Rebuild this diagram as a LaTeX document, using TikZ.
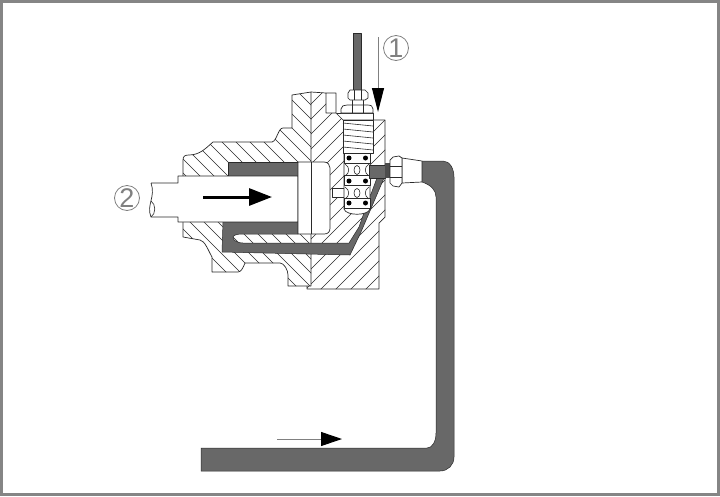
\documentclass[tikz,border=0pt]{standalone}
\usepackage{fontspec}
\setmainfont{Liberation Sans}
\usetikzlibrary{arrows.meta}
\definecolor{oilgray}{HTML}{686868}
\definecolor{framegray}{HTML}{858585}
\definecolor{inkgray}{HTML}{2A2A2A}
\begin{document}
\begin{tikzpicture}[
  x=1pt, y=-1pt,
  part/.style={draw=inkgray, line width=0.7pt, fill=white, line join=round},
  oil/.style={draw=inkgray, line width=0.5pt, fill=oilgray, line join=round},
  hatchline/.style={draw=inkgray, line width=0.6pt},
  thin part/.style={draw=inkgray, line width=0.6pt},
  circlabel/.style={circle, draw=gray, line width=0.8pt, minimum size=25pt, inner sep=0pt, text=gray, font=\fontsize{27}{27}\selectfont},
  bigflow/.style={line width=3pt, -{Triangle[length=23pt, width=17pt]}},
  flow/.style={draw=gray, line width=1pt, -{Triangle[length=24pt, width=12pt, black]}},
  longflow/.style={draw=gray, line width=1pt, -{Triangle[length=21pt, width=14pt, black]}}
]
\useasboundingbox (0,0) rectangle (720,496);
\fill[white] (0,0) rectangle (720,496);

% Frame
\draw[framegray, line width=3pt] (1.5,1.5) rectangle (718.5,494.5);

% Left housing
\begin{scope}
\clip (183,176) -- (183,160) .. controls (183,156) and (185,155) .. (189,155)
  .. controls (200,155) and (206,148) .. (213,142) -- (272,142)
  .. controls (277,141) and (278,128) .. (283,128) -- (292,128) -- (292,95) -- (311,92)
  -- (311,286) -- (288,286) -- (288,275) .. controls (288,270) and (284,263) .. (280,263)
  -- (245,263) .. controls (243,268) and (241,272) .. (238,272) -- (212,272) -- (212,257)
  .. controls (208,250) and (205,241) .. (200,240) -- (183,237) -- (183,222) -- cycle;
\foreach \hx in {-120,-106,...,300}
  \draw[hatchline] (\hx,80) -- (\hx+220,300);
\end{scope}
\draw[part, fill=none] (183,176) -- (183,160) .. controls (183,156) and (185,155) .. (189,155)
  .. controls (200,155) and (206,148) .. (213,142) -- (272,142)
  .. controls (277,141) and (278,128) .. (283,128) -- (292,128) -- (292,95) -- (311,92)
  -- (311,286) -- (288,286) -- (288,275) .. controls (288,270) and (284,263) .. (280,263)
  -- (245,263) .. controls (243,268) and (241,272) .. (238,272) -- (212,272) -- (212,257)
  .. controls (208,250) and (205,241) .. (200,240) -- (183,237) -- (183,222);

% Right block
\begin{scope}
\clip (311,92) -- (326,93) -- (326,113) -- (337,113) -- (343,120) -- (385,120) -- (385,217)
  -- (379,223) -- (379,289) -- (307,289) -- (307,286) -- (311,286) -- cycle;
\foreach \hx in {320,335,...,620}
  \draw[hatchline] (\hx,80) -- (\hx-220,300);
\end{scope}
\draw[part, fill=none] (311,92) -- (326,93) -- (336,93) -- (336,113) -- (326,113) -- (326,93);
\draw[part, fill=none] (336,113) -- (343,120) -- (385,120) -- (385,217) -- (379,223) -- (379,289)
  -- (307,289) -- (307,286);

% Oil chambers
\path[oil] (228,162) rectangle (298,176);
\path[oil] (223,222) -- (298,222) -- (298,234) -- (241,234)
  .. controls (236,234) and (232,236) .. (233,238) .. controls (234,241) and (238,243) .. (243,243)
  -- (349,243) -- (359,227) -- (365,210) -- (377,178) -- (384,178) -- (361,232) -- (350,255)
  -- (222,252) -- cycle;

% Piston
\path[part] (151,183) -- (178,183) -- (178,176) -- (298,176) -- (298,222) -- (178,222)
  -- (178,217) -- (151,217) .. controls (146,205) and (156,197) .. (151,183);
\draw[thin part] (151,217) .. controls (156,214) and (156,204) .. (151,201);
\path[part] (298,162) -- (324,162) .. controls (328,162) and (330,165) .. (330,168) -- (330,228)
  .. controls (330,232) and (328,234) .. (324,234) -- (298,234) -- cycle;
\draw[thin part] (311,162) -- (311,234);

% Valve stack
\path[part] (332,188) rectangle (344,197);
\path[part] (344,153) -- (370,153) -- (370,209) .. controls (368,216) and (346,216) .. (344,209) -- cycle;
\foreach \ry in {153,175.5,198}
  \draw[part, fill=white] (344,\ry) rectangle (370,\ry+10);
\foreach \ry in {158,181,203} {
  \fill[black] (349,\ry) circle (2.5);
  \fill[black] (365.5,\ry) circle (2.5);
}
\foreach \ry in {170,193} {
  \draw[thin part] (357,\ry) ellipse (3 and 4.5);
  \draw[thin part] (345,\ry-6) .. controls (350,\ry-3) and (350,\ry+3) .. (345,\ry+6);
  \draw[thin part] (369,\ry-6) .. controls (364,\ry-3) and (364,\ry+3) .. (369,\ry+6);
}
\path[oil] (369,165) rectangle (385,178);
\path[oil, draw=none, fill=black!70] (385,163) rectangle (391,178);

% Threaded plug
\path[part] (343,120) rectangle (373,153);
\foreach \ty in {123,129,...,147}
  \draw[thin part] (343,\ty) -- (373,\ty+3);
\draw[thin part] (373,113) -- (373,120);
\draw[thin part] (337,113) -- (373,113);
\path[part] (341,113) -- (341,109) .. controls (341,106) and (344,105) .. (347,105) -- (367,105)
  .. controls (371,105) and (373,106) .. (373,109) -- (373,113) -- cycle;
\draw[thin part] (352,100) -- (352,113) (363,100) -- (363,113);

% Feed pipe and nut
\path[oil] (353,33) rectangle (361,90);
\path[part] (350,90) -- (365,90) -- (368,93) -- (368,98) -- (365,100) -- (350,100) -- (348,98) -- (348,93) -- cycle;
\draw[thin part] (354,90) -- (354,100) (361,90) -- (361,100);

% Delivery pipe
\path[oil] (422,161) -- (443,161) .. controls (450,161) and (454,169) .. (454,177) -- (454,457)
  .. controls (454,465) and (448,471) .. (440,471) -- (201,471) -- (201,448) -- (427,448)
  .. controls (432,448) and (436,442) .. (436,433) -- (436,197)
  .. controls (436,190) and (431,185) .. (422,182) -- cycle;

% Union on the pipe
\path[part] (402,158) -- (422,161) -- (422,182) -- (402,183) -- cycle;
\path[part] (393,157) -- (399,156) -- (402,158) -- (402,183) -- (399,187) -- (393,186) -- (390,183)
  -- (390,160) -- cycle;
\draw[thin part] (390,166) -- (402,166) (390,177) -- (402,177);

% Flow marks
\coordinate (feedstart) at (378,37);
\coordinate (feedend) at (378,112);
\coordinate (rodstart) at (203,197);
\coordinate (rodend) at (272,197);
\coordinate (linestart) at (277,439);
\coordinate (lineend) at (342,439);
\draw[flow] (feedstart) -- (feedend);
\draw[bigflow] (rodstart) -- (rodend);
\draw[longflow] (linestart) -- (lineend);

% Labels
\node[circlabel] (one) at (396,48) {1};
\node[circlabel] (two) at (127,198) {2};

\end{tikzpicture}
\end{document}
